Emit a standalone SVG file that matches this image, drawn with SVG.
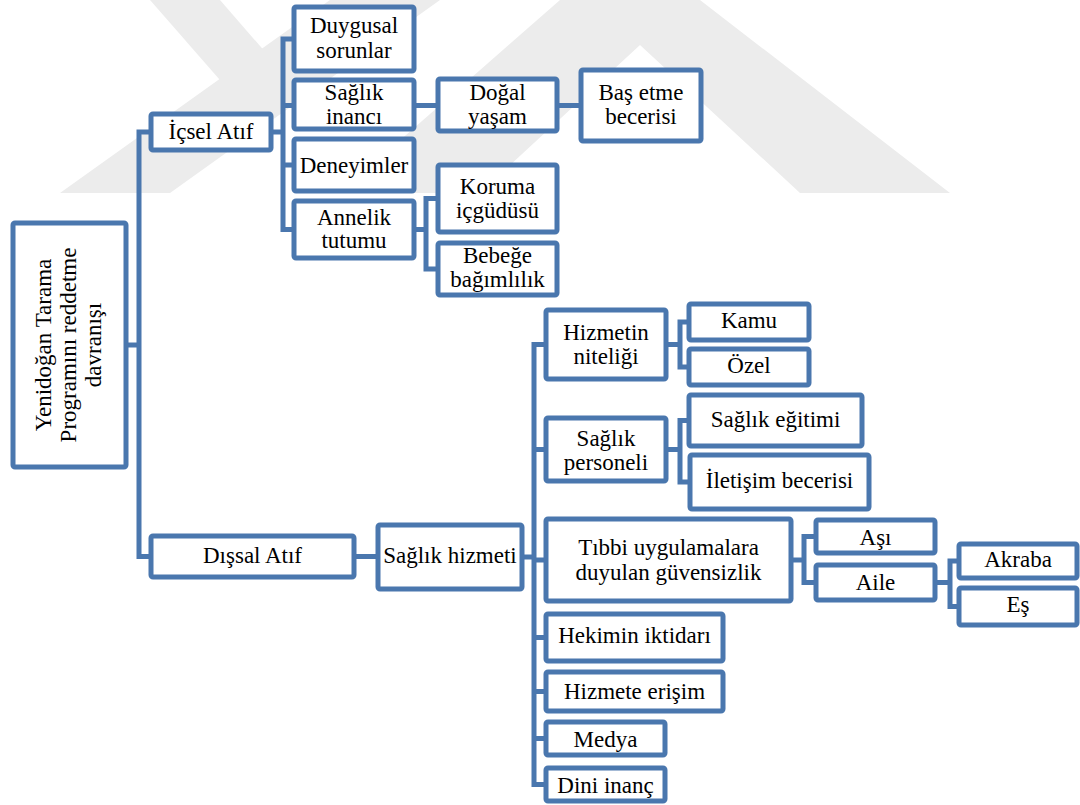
<svg xmlns="http://www.w3.org/2000/svg" width="1080" height="805" viewBox="0 0 1080 805">
<style>
.box{fill:#fff;stroke:#4a77ae;stroke-width:5}
.c{fill:none;stroke:#4a77ae;stroke-width:5}
.wm{fill:#ececec}
.s{font-family:'Liberation Serif',serif;font-size:23px;text-anchor:middle;fill:#000}
</style>
<rect width="1080" height="805" fill="#fff"/>
<g id="watermark">
<polygon class="wm" points="330,0 440,0 170,193 60,193"/>
<polygon class="wm" points="150,0 220,0 300,92 262,128"/>
<polygon class="wm" points="560,0 700,0 950,193 800,193 640,45 480,193 340,193"/>
</g>
<g id="connectors">
<path class="c" d="M126,345 H139"/>
<path class="c" d="M151,132 H139 V556.5 H151"/>
<path class="c" d="M271,132 H283"/>
<path class="c" d="M294,39 H283 V229.5 H294"/>
<path class="c" d="M283,105.5 H294 M283,165 H294"/>
<path class="c" d="M414,105.5 H438"/>
<path class="c" d="M557,105.5 H581"/>
<path class="c" d="M414,229.5 H426"/>
<path class="c" d="M438,198.5 H426 V269 H438"/>
<path class="c" d="M354,556.5 H378"/>
<path class="c" d="M522,557 H534"/>
<path class="c" d="M546,344.5 H534 V784.5 H546"/>
<path class="c" d="M534,449.5 H546 M534,560 H546 M534,637.5 H546 M534,691.5 H546 M534,738.5 H546"/>
<path class="c" d="M666,344.5 H680"/>
<path class="c" d="M689,322 H680 V367 H689"/>
<path class="c" d="M666,449.5 H680"/>
<path class="c" d="M689,420.5 H680 V482 H690"/>
<path class="c" d="M791,560 H804"/>
<path class="c" d="M816,536.5 H804 V582.5 H816"/>
<path class="c" d="M935,582.5 H950"/>
<path class="c" d="M959,561 H950 V606.5 H959"/>
</g>
<g id="root"><rect class="box" x="13" y="223" width="113" height="244" rx="2"/>
<g transform="translate(70,345) rotate(-90)"><text class="s" x="0" y="-19">Yenidoğan Tarama</text><text class="s" x="0" y="6">Programını reddetme</text><text class="s" x="0" y="31">davranışı</text></g></g>
<g id="icsel"><rect class="box" x="151" y="114" width="120" height="36" rx="2"/><text class="s" x="211" y="139">İçsel Atıf</text></g>
<g id="duygusal"><rect class="box" x="294" y="7" width="120" height="64" rx="2"/><text class="s" x="354" y="33">Duygusal</text><text class="s" x="354" y="58">sorunlar</text></g>
<g id="saglik-inanci"><rect class="box" x="294" y="80" width="120" height="49" rx="2"/><text class="s" x="354" y="100">Sağlık</text><text class="s" x="354" y="124">inancı</text></g>
<g id="deneyimler"><rect class="box" x="294" y="139" width="120" height="52" rx="2"/><text class="s" x="354" y="173">Deneyimler</text></g>
<g id="annelik"><rect class="box" x="294" y="201" width="120" height="57" rx="2"/><text class="s" x="354" y="225">Annelik</text><text class="s" x="354" y="248">tutumu</text></g>
<g id="dogal"><rect class="box" x="438" y="79" width="119" height="52" rx="2"/><text class="s" x="497.5" y="100">Doğal</text><text class="s" x="497.5" y="124">yaşam</text></g>
<g id="bas-etme"><rect class="box" x="581" y="70" width="120" height="71" rx="2"/><text class="s" x="641" y="100">Baş etme</text><text class="s" x="641" y="124">becerisi</text></g>
<g id="koruma"><rect class="box" x="438" y="165" width="119" height="67" rx="2"/><text class="s" x="497.5" y="194">Koruma</text><text class="s" x="497.5" y="218">içgüdüsü</text></g>
<g id="bebege"><rect class="box" x="438" y="243" width="119" height="52" rx="2"/><text class="s" x="497.5" y="263">Bebeğe</text><text class="s" x="497.5" y="287">bağımlılık</text></g>
<g id="dissal"><rect class="box" x="151" y="536" width="203" height="41" rx="2"/><text class="s" x="252.5" y="563">Dışsal Atıf</text></g>
<g id="saglik-hizmeti"><rect class="box" x="378" y="525" width="144" height="64" rx="2"/><text class="s" x="450" y="563">Sağlık hizmeti</text></g>
<g id="hizmetin"><rect class="box" x="546" y="310" width="120" height="69" rx="2"/><text class="s" x="606" y="340">Hizmetin</text><text class="s" x="606" y="364">niteliği</text></g>
<g id="kamu"><rect class="box" x="689" y="304" width="120" height="36" rx="2"/><text class="s" x="749" y="328">Kamu</text></g>
<g id="ozel"><rect class="box" x="689" y="349" width="120" height="36" rx="2"/><text class="s" x="749" y="373">Özel</text></g>
<g id="personel"><rect class="box" x="546" y="418" width="120" height="63" rx="2"/><text class="s" x="606" y="446">Sağlık</text><text class="s" x="606" y="470">personeli</text></g>
<g id="egitim"><rect class="box" x="689" y="395" width="173" height="51" rx="2"/><text class="s" x="775.5" y="427">Sağlık eğitimi</text></g>
<g id="iletisim"><rect class="box" x="690" y="455" width="179" height="54" rx="2"/><text class="s" x="779.5" y="488">İletişim becerisi</text></g>
<g id="tibbi"><rect class="box" x="546" y="519" width="245" height="82" rx="2"/><text class="s" x="668.5" y="555">Tıbbi uygulamalara</text><text class="s" x="668.5" y="580">duyulan güvensizlik</text></g>
<g id="asi"><rect class="box" x="816" y="520" width="119" height="33" rx="2"/><text class="s" x="875.5" y="545">Aşı</text></g>
<g id="aile"><rect class="box" x="816" y="565" width="119" height="35" rx="2"/><text class="s" x="875.5" y="590">Aile</text></g>
<g id="akraba"><rect class="box" x="959" y="544" width="118" height="34" rx="2"/><text class="s" x="1018" y="567">Akraba</text></g>
<g id="es"><rect class="box" x="959" y="588" width="118" height="37" rx="2"/><text class="s" x="1018" y="612">Eş</text></g>
<g id="hekimin"><rect class="box" x="546" y="614" width="177" height="47" rx="2"/><text class="s" x="634.5" y="643">Hekimin iktidarı</text></g>
<g id="hizmete"><rect class="box" x="546" y="672" width="177" height="39" rx="2"/><text class="s" x="634.5" y="699">Hizmete erişim</text></g>
<g id="medya"><rect class="box" x="546" y="722" width="119" height="33" rx="2"/><text class="s" x="605.5" y="747">Medya</text></g>
<g id="dini"><rect class="box" x="546" y="768" width="119" height="33" rx="2"/><text class="s" x="605.5" y="793">Dini inanç</text></g>
</svg>
